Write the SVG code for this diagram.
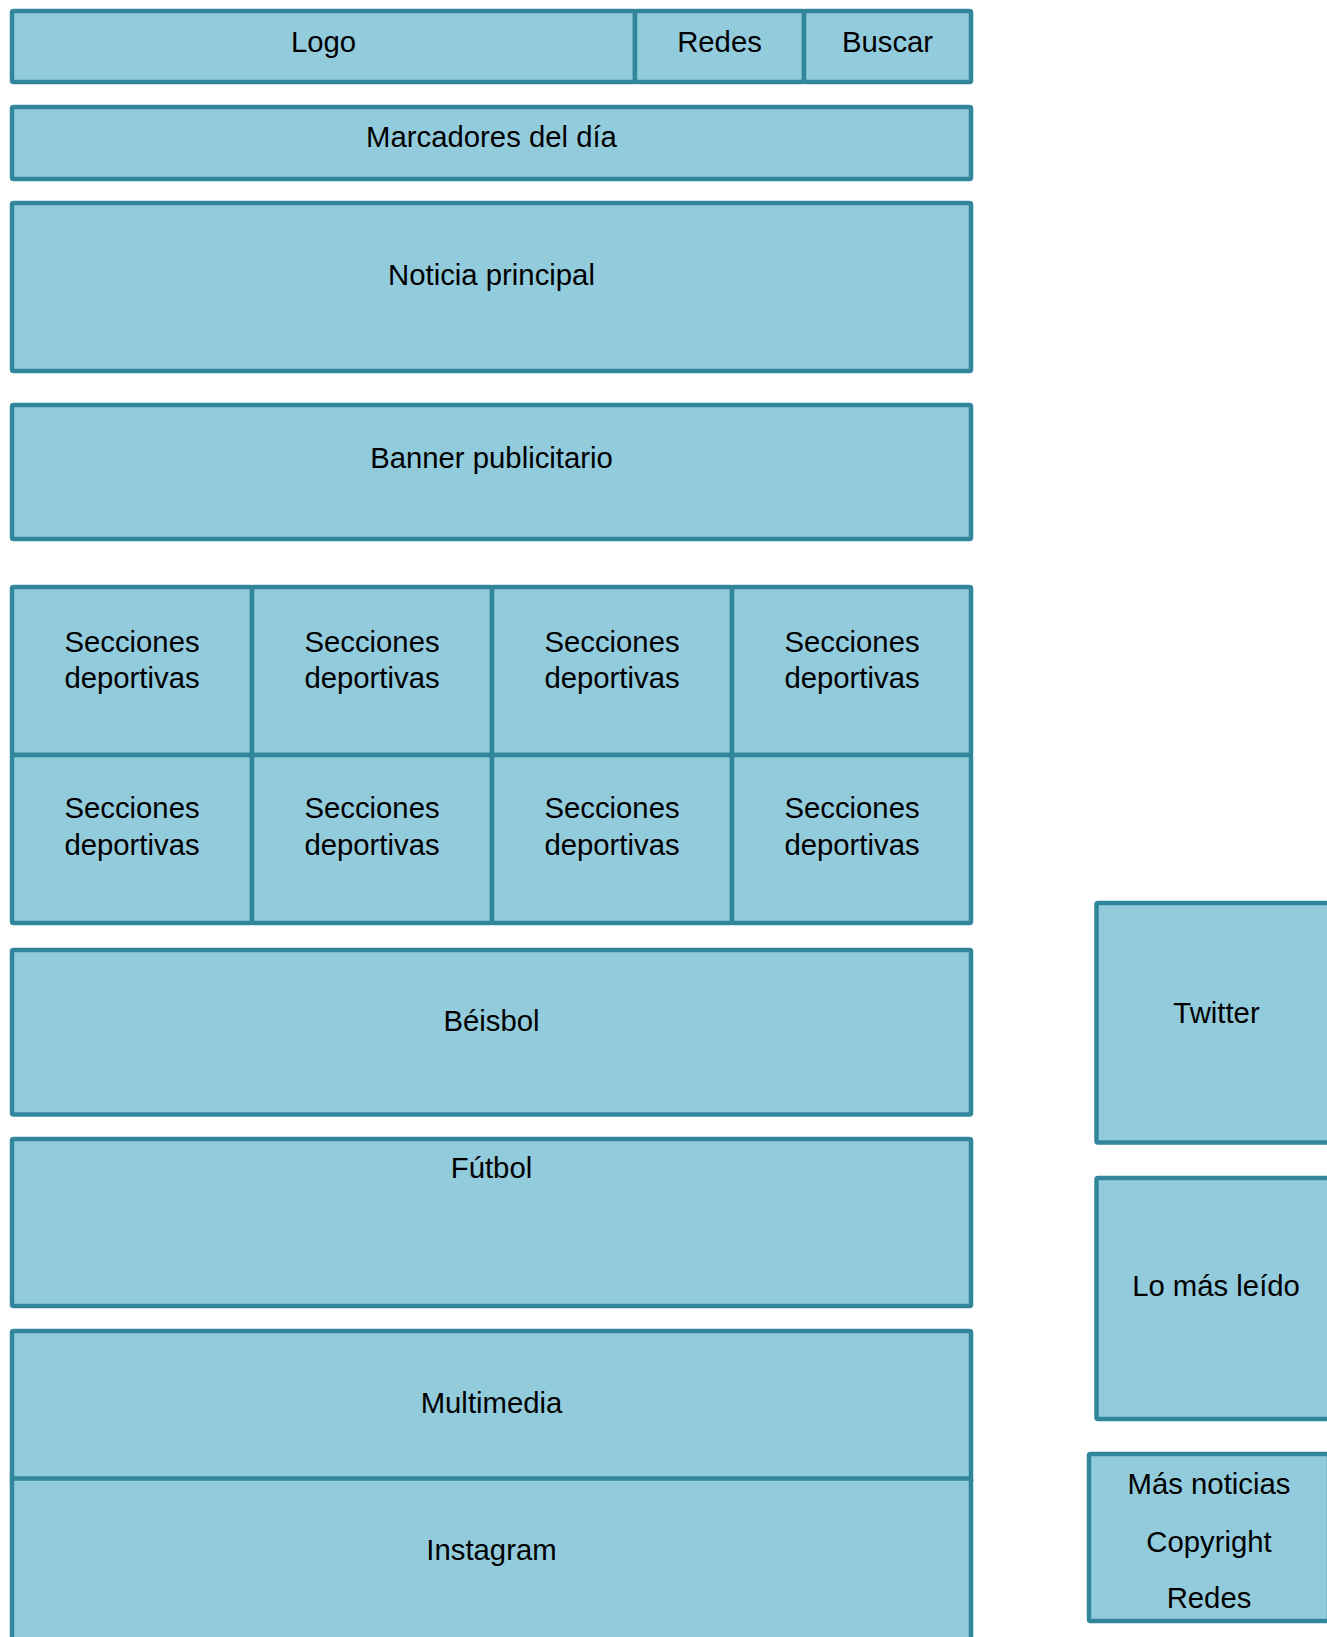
<svg xmlns="http://www.w3.org/2000/svg" width="1327" height="1637" viewBox="0 0 1327 1637">
<style>
.b{fill:#92CBDC;stroke:#31869B;stroke-width:4.5;stroke-linejoin:round}
.t{font-family:"Liberation Sans",Arial,sans-serif;font-size:29.3px;fill:#000;text-anchor:middle}
</style>
<rect width="1327" height="1637" fill="#fff"/>
<g id="logo"><rect class="b" x="12" y="11" width="623" height="71" rx="1.5"/><text class="t" x="323.5" y="51.5">Logo</text></g>
<g id="redes-top"><rect class="b" x="635" y="11" width="169" height="71" rx="1.5"/><text class="t" x="719.5" y="51.5">Redes</text></g>
<g id="buscar"><rect class="b" x="804" y="11" width="167" height="71" rx="1.5"/><text class="t" x="887.5" y="51.5">Buscar</text></g>
<g id="marcadores"><rect class="b" x="12" y="107" width="959" height="72" rx="1.5"/><text class="t" x="491.5" y="146.5">Marcadores del día</text></g>
<g id="noticia"><rect class="b" x="12" y="203" width="959" height="168" rx="1.5"/><text class="t" x="491.5" y="285">Noticia principal</text></g>
<g id="banner"><rect class="b" x="12" y="405" width="959" height="134" rx="1.5"/><text class="t" x="491.5" y="468">Banner publicitario</text></g>
<g id="secciones-1"><rect class="b" x="12" y="587" width="240" height="168" rx="1.5"/><text class="t" x="132" y="651.5">Secciones</text><text class="t" x="132" y="688">deportivas</text></g>
<g id="secciones-2"><rect class="b" x="252" y="587" width="240" height="168" rx="1.5"/><text class="t" x="372" y="651.5">Secciones</text><text class="t" x="372" y="688">deportivas</text></g>
<g id="secciones-3"><rect class="b" x="492" y="587" width="240" height="168" rx="1.5"/><text class="t" x="612" y="651.5">Secciones</text><text class="t" x="612" y="688">deportivas</text></g>
<g id="secciones-4"><rect class="b" x="732" y="587" width="239" height="168" rx="1.5"/><text class="t" x="852" y="651.5">Secciones</text><text class="t" x="852" y="688">deportivas</text></g>
<g id="secciones-5"><rect class="b" x="12" y="755" width="240" height="168" rx="1.5"/><text class="t" x="132" y="818">Secciones</text><text class="t" x="132" y="855">deportivas</text></g>
<g id="secciones-6"><rect class="b" x="252" y="755" width="240" height="168" rx="1.5"/><text class="t" x="372" y="818">Secciones</text><text class="t" x="372" y="855">deportivas</text></g>
<g id="secciones-7"><rect class="b" x="492" y="755" width="240" height="168" rx="1.5"/><text class="t" x="612" y="818">Secciones</text><text class="t" x="612" y="855">deportivas</text></g>
<g id="secciones-8"><rect class="b" x="732" y="755" width="239" height="168" rx="1.5"/><text class="t" x="852" y="818">Secciones</text><text class="t" x="852" y="855">deportivas</text></g>
<g id="beisbol"><rect class="b" x="12" y="950" width="959" height="164.5" rx="1.5"/><text class="t" x="491.5" y="1030.5">Béisbol</text></g>
<g id="futbol"><rect class="b" x="12" y="1139" width="959" height="167" rx="1.5"/><text class="t" x="491.5" y="1178">Fútbol</text></g>
<g id="multimedia"><rect class="b" x="12" y="1331" width="959" height="151" rx="1.5"/><text class="t" x="491.5" y="1412.5">Multimedia</text></g>
<g id="instagram"><rect class="b" x="12" y="1478.5" width="959" height="190" rx="1.5"/><text class="t" x="491.5" y="1560">Instagram</text></g>
<g id="twitter"><rect class="b" x="1096.5" y="903" width="240" height="239.5" rx="1.5"/><text class="t" x="1216.5" y="1022.5">Twitter</text></g>
<g id="mas-leido"><rect class="b" x="1096.5" y="1178" width="240" height="241" rx="1.5"/><text class="t" x="1216" y="1296">Lo más leído</text></g>
<g id="footer"><rect class="b" x="1089" y="1454" width="240" height="167" rx="1.5"/><text class="t" x="1209" y="1494">Más noticias</text><text class="t" x="1209" y="1551.5">Copyright</text><text class="t" x="1209" y="1608">Redes</text></g>
<g id="connectors"></g>
</svg>
